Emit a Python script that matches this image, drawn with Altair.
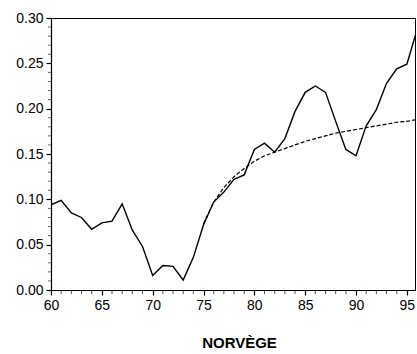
import altair as alt
import pandas as pd

years = list(range(60, 97))
rate = [0.094, 0.099, 0.085, 0.080, 0.067, 0.074, 0.076, 0.095, 0.066, 0.048,
        0.016, 0.027, 0.026, 0.011, 0.036, 0.072, 0.097, 0.108, 0.122, 0.127,
        0.155, 0.162, 0.152, 0.167, 0.197, 0.218, 0.225, 0.218, 0.186, 0.155,
        0.148, 0.181, 0.199, 0.228, 0.244, 0.249, 0.287]

trend_years = list(range(75, 97))
trend = [0.073, 0.097, 0.113, 0.125, 0.134, 0.142, 0.148, 0.152, 0.156, 0.160,
         0.164, 0.167, 0.170, 0.173, 0.175, 0.177, 0.179, 0.181, 0.183, 0.185,
         0.186, 0.188]

x_major = [60, 65, 70, 75, 80, 85, 90, 95]
x_minor = [y for y in range(60, 96) if y % 5 != 0]
y_major = [0.0, 0.05, 0.10, 0.15, 0.20, 0.25, 0.30]
y_minor = [i / 100 for i in range(0, 31) if i % 5 != 0]

df = pd.DataFrame({"year": years, "rate": rate})
dt = pd.DataFrame({"year": trend_years, "rate": trend})
dxm = pd.DataFrame({"year": x_minor})
dym = pd.DataFrame({"rate": y_minor})

FONT = "Liberation Sans"
xs = alt.Scale(domain=[60, 95.8], nice=False, zero=False)
ys = alt.Scale(domain=[0, 0.30], nice=False)

solid = alt.Chart(df).mark_line(color="black", strokeWidth=1.4, clip=True).encode(
    x=alt.X("year:Q", scale=xs,
            axis=alt.Axis(values=x_major, format="d", orient="bottom", tickSize=5,
                          tickWidth=1.2, domainWidth=1.2,
                          tickColor="black", domainColor="black", labelColor="black",
                          labelFont=FONT, labelFontSize=14, labelPadding=3,
                          grid=False, title="NORVÈGE", titleFont=FONT,
                          titleFontSize=15, titleFontWeight="bold", titleColor="black",
                          titleX=188, titleY=52, titleBaseline="middle",
                          titleAlign="center", labelFlush=False)),
    y=alt.Y("rate:Q", scale=ys,
            axis=alt.Axis(values=y_major, format=".2f", orient="left", tickSize=5,
                          tickWidth=1.2, domainWidth=1.2,
                          tickColor="black", domainColor="black", labelColor="black",
                          labelFont=FONT, labelFontSize=14, labelPadding=3,
                          grid=False, title="", labelFlush=False)),
)

dashed = alt.Chart(dt).mark_line(color="black", strokeWidth=1.2, strokeDash=[4, 2],
                                  clip=True).encode(
    x=alt.X("year:Q", scale=xs),
    y=alt.Y("rate:Q", scale=ys),
)

xticks = alt.Chart(dxm).mark_tick(color="black", orient="vertical", size=4,
                                  thickness=1, yOffset=2).encode(
    x=alt.X("year:Q", scale=xs),
    y=alt.datum(0, scale=ys),
)

yticks = alt.Chart(dym).mark_tick(color="black", orient="horizontal", size=3,
                                  thickness=1, xOffset=-1.5, opacity=0.6).encode(
    y=alt.Y("rate:Q", scale=ys),
    x=alt.datum(60, scale=xs),
)

chart = alt.layer(solid, dashed, xticks, yticks).properties(
    width=364, height=272,
    autosize=alt.AutoSizeParams(type="none"),
    padding={"left": 51, "top": 18, "right": 2, "bottom": 64},
    background="white",
).configure_view(stroke="black", strokeWidth=1)

chart.save("out.html", embed_options={"renderer": "svg", "actions": False})
